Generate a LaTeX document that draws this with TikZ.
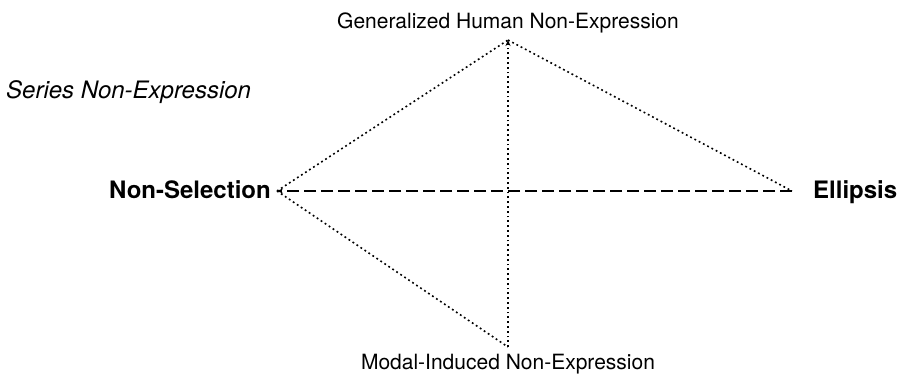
\documentclass[tikz,border=0pt]{standalone}
\usepackage{fontspec}
\setmainfont{TeX Gyre Heros}
\usetikzlibrary{arrows.meta}
\begin{document}
\begin{tikzpicture}[x=1pt,y=-1pt,>={Stealth[length=6pt,width=5pt]},
    font=\fontsize{21}{25}\selectfont,
    lbl/.style={inner sep=0pt},
    big/.style={lbl,font=\fontsize{24}{28}\selectfont},
    dotline/.style={dash pattern=on 1.8pt off 3pt,line width=1.6pt},
    dashline/.style={dash pattern=on 12pt off 5pt,line width=1.6pt}]
    \useasboundingbox (0,0) rectangle (904,376);
    \coordinate (T) at (508,40);
    \coordinate (L) at (277,191);
    \coordinate (R) at (792,191);
    \coordinate (B) at (508,347);

    \node[lbl,anchor=base] (GHNE) at (508,28) {Generalized Human Non-Expression};
    \node[big,anchor=base west] (SNE) at (6,98) {\itshape Series Non-Expression};
    \node[big,anchor=base east] (NS) at (271,198) {\bfseries Non-Selection};
    \node[big,anchor=base west] (EL) at (813,198) {\bfseries Ellipsis};
    \node[lbl,anchor=base] (MINE) at (508,369) {Modal-Induced Non-Expression};

    \draw[dotline] (L) -- (T);
    \draw[dotline] (T) -- (R);
    \draw[dotline] (L) -- (B);
    \draw[dotline,->] (B) -- (T);
    \draw[dashline,->] (R) -- (L);
  \end{tikzpicture}
\end{document}
